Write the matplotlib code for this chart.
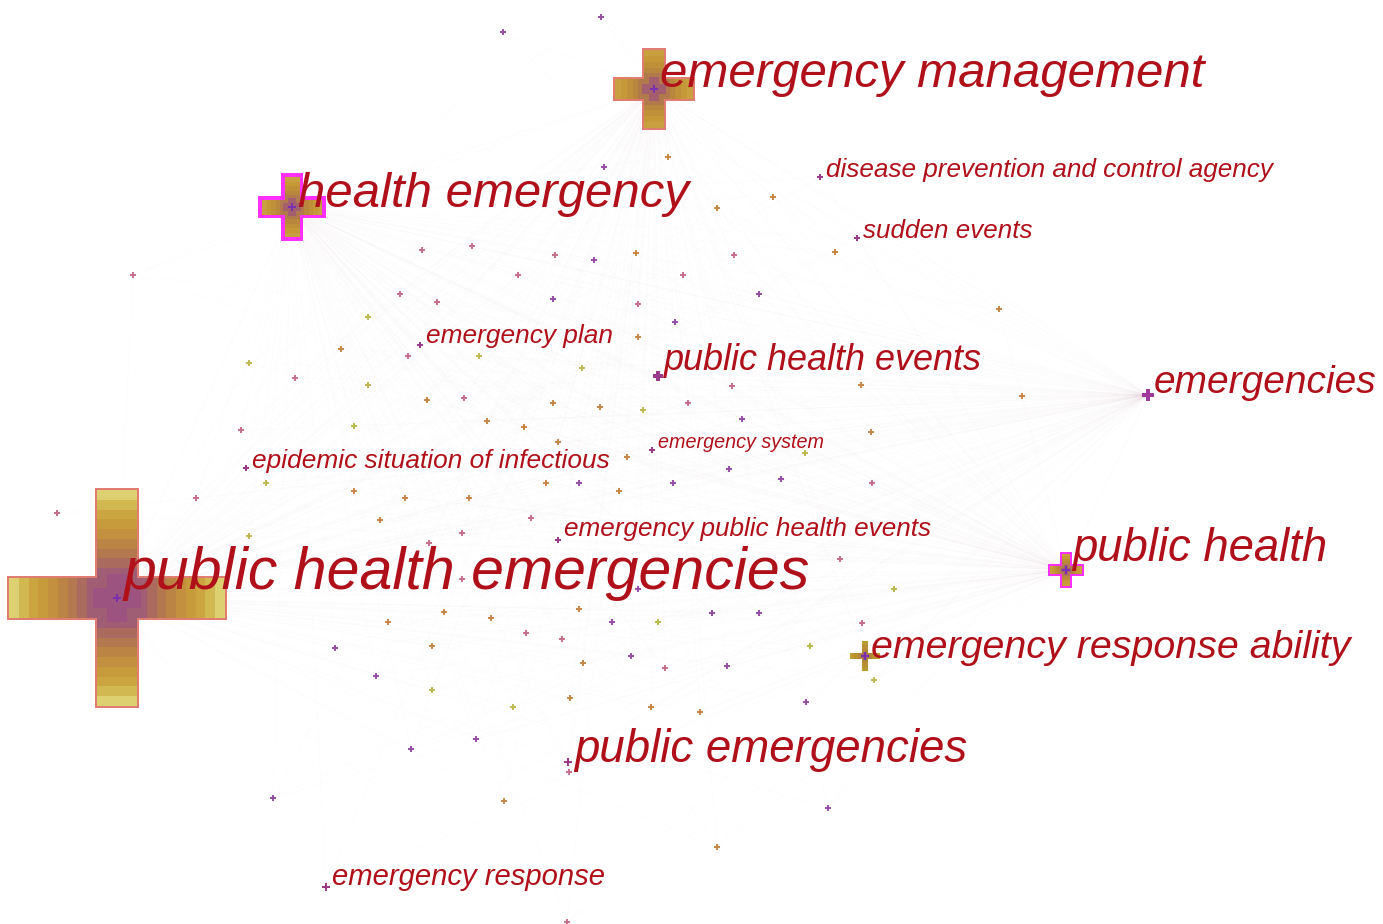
import matplotlib
matplotlib.use("Agg")
import matplotlib.pyplot as plt
from matplotlib.patches import Polygon

# ---------------- data ----------------
# labelled keywords: layout coordinates (x, y), node size, label font size
kw_labels = ["public health emergencies", "emergency management", "health emergency",
             "public health", "emergency response ability", "public emergencies",
             "emergencies", "public health events", "disease prevention and control agency",
             "sudden events", "emergency plan", "epidemic situation of infectious",
             "emergency system", "emergency public health events", "emergency response"]
kw_x = [117, 654, 292, 1066, 865, 568, 1148, 658, 820, 857, 420, 246, 652, 558, 326]
kw_y = [598, 89, 207, 570, 656, 762, 395, 376, 177, 238, 345, 468, 450, 540, 887]
kw_size = [108, 39, 30, 16, 15, 4, 6, 5, 3, 3, 3, 3, 3, 3, 4]
kw_font = [42.5, 35.5, 35.4, 32.8, 28.4, 32.9, 28, 25.9, 18.8, 18.7, 18.9, 18.9, 14.2, 18.8, 21.1]
kw_centrality = [0, 0, 2, 1, 0, 0, 1, 0, 0, 0, 0, 0, 0, 0, 0]
label_dy = [-9, -2, 0, -9, 2, 0, -2, -6, 0, 0, -2, 0, -2, -4, -2]

# unlabelled keywords: layout coordinates and year class (p=purple, r=rose, o=orange, y=yellow)
small_x = [503, 601, 668, 604, 422, 472, 555, 594, 636, 133, 518, 683, 400, 437, 553, 638, 675,
           368, 638, 341, 408, 479, 249, 582, 295, 368, 427, 464, 553, 600, 643, 688, 241, 487,
           524, 354, 558, 627,
           773, 717, 835, 734, 759, 999, 732, 861, 1022, 742, 871, 805,
           266, 196, 57, 354, 405, 469, 546, 579, 619, 673, 380, 531, 462, 249, 429, 462, 638,
           444, 491, 579, 388, 612, 658, 526, 562, 432, 335, 631, 583, 665, 376, 432, 570, 513,
           651, 411, 476, 569, 273, 504, 567,
           729, 781, 872, 840, 894, 712, 759, 862, 810, 727, 874, 806, 700, 828, 717]
small_y = [32, 17, 157, 167, 250, 246, 255, 260, 253, 275, 275, 275, 294, 302, 299, 304, 322,
           317, 337, 349, 356, 356, 363, 368, 378, 385, 400, 398, 403, 407, 410, 403, 430, 421,
           427, 426, 442, 457,
           197, 208, 252, 255, 294, 309, 386, 385, 396, 419, 432, 453,
           483, 498, 513, 491, 498, 498, 483, 483, 491, 483, 520, 518, 533, 536, 543, 579, 589,
           612, 618, 609, 622, 622, 622, 633, 639, 646, 648, 656, 663, 668, 676, 690, 698, 707,
           707, 749, 739, 772, 798, 801, 922,
           469, 479, 483, 559, 589, 613, 613, 623, 646, 666, 680, 702, 712, 808, 847]
small_cls = ["p", "p", "o", "p", "r", "r", "r", "p", "o", "r", "r", "r", "r", "r", "p", "r", "p",
             "y", "o", "o", "r", "y", "y", "y", "r", "y", "o", "r", "o", "o", "y", "r", "r", "o",
             "o", "y", "o", "o",
             "o", "o", "o", "r", "p", "o", "r", "o", "o", "p", "o", "y",
             "y", "r", "r", "o", "o", "o", "o", "p", "o", "p", "o", "r", "r", "y", "r", "r", "p",
             "o", "o", "o", "o", "p", "y", "r", "r", "o", "p", "p", "o", "r", "p", "y", "o", "y",
             "o", "p", "p", "r", "p", "o", "r",
             "p", "p", "r", "r", "y", "p", "p", "r", "y", "p", "y", "p", "o", "p", "o"]

# ---------------- style ----------------
W, H = 1383, 924
TEXT = "#b0101a"
cls_col = {"p": "#8b3a9c", "r": "#c0607c", "o": "#c07a34", "y": "#b8b040"}

fig = plt.figure(figsize=(W / 100, H / 100), dpi=100)
ax = fig.add_axes([0, 0, 1, 1])
ax.set_xlim(0, W)
ax.set_ylim(H, 0)
ax.axis("off")
fig.patch.set_facecolor("white")

# faint co-occurrence links
hubs = [0, 1, 2, 3, 6]
for sx, sy in zip(small_x + kw_x, small_y + kw_y):
    for h in hubs:
        ax.plot([sx, kw_x[h]], [sy, kw_y[h]], color="#eeb0c0", lw=0.5, alpha=0.03, zorder=1)


def cross(cx, cy, L, w):
    return [(cx - w, cy - L), (cx + w, cy - L), (cx + w, cy - w), (cx + L, cy - w),
            (cx + L, cy + w), (cx + w, cy + w), (cx + w, cy + L), (cx - w, cy + L),
            (cx - w, cy + w), (cx - L, cy + w), (cx - L, cy - w), (cx - w, cy - w)]


ring_big = ["#dcd070", "#d2b850", "#cba540", "#c79a3c", "#c2903e", "#bc8444", "#b4784e",
            "#ab6a5e", "#a05e74"]
ring_mid = ["#c9a040", "#c59838", "#c09038", "#b9863e", "#b07a4c"]
ring_small = ["#bb9a32", "#b89030", "#b08838"]

for i, (x, y, s) in enumerate(zip(kw_x, kw_y, kw_size)):
    if s >= 10:
        if s > 50:
            w, rings = s * 0.185, ring_big
        elif i == 4:
            w, rings = 3.2, ring_small
        else:
            w, rings = s * 0.25, ring_mid
        if kw_centrality[i]:
            edge, pad = "#ff30ff", 1.2 + 1.2 * kw_centrality[i]
        elif s > 20:
            edge, pad = "#e07c72", 1.8
        else:
            edge, pad = None, 0
        if edge:
            ax.add_patch(Polygon(cross(x, y, s + pad, w + pad), closed=True,
                                 facecolor=edge, edgecolor="none", zorder=3))
        n = len(rings)
        for k in range(n):
            L = s - (s - w) * k / n
            ax.add_patch(Polygon(cross(x, y, L, w), closed=True, facecolor=rings[k],
                                 edgecolor="none", zorder=4))
        ax.add_patch(Polygon(cross(x, y, w * 1.2, w * 0.5), closed=True,
                             facecolor="#9a4a8a", edgecolor="none", alpha=0.55, zorder=4))
        ax.plot([x], [y], marker="+", ms=min(6, s * 0.5), mew=1.4, color="#7a30b0", zorder=5)
    else:
        col = "#9a3a8a" if kw_centrality[i] == 0 else "#a03a9a"
        ax.plot([x], [y], marker="P", ms=s * 1.4, mew=0, color=col, zorder=5)

for x, y, c in zip(small_x, small_y, small_cls):
    ax.plot([x], [y], marker="+", ms=4.5, mew=1.4, color=cls_col[c], alpha=0.9, zorder=5)

for i, lab in enumerate(kw_labels):
    ax.text(kw_x[i] + 6, kw_y[i] + label_dy[i], lab, fontsize=kw_font[i],
            family="Liberation Sans", style="italic", color=TEXT, va="baseline",
            ha="left", zorder=6)

fig.savefig("out.png", dpi=100, facecolor="white")
